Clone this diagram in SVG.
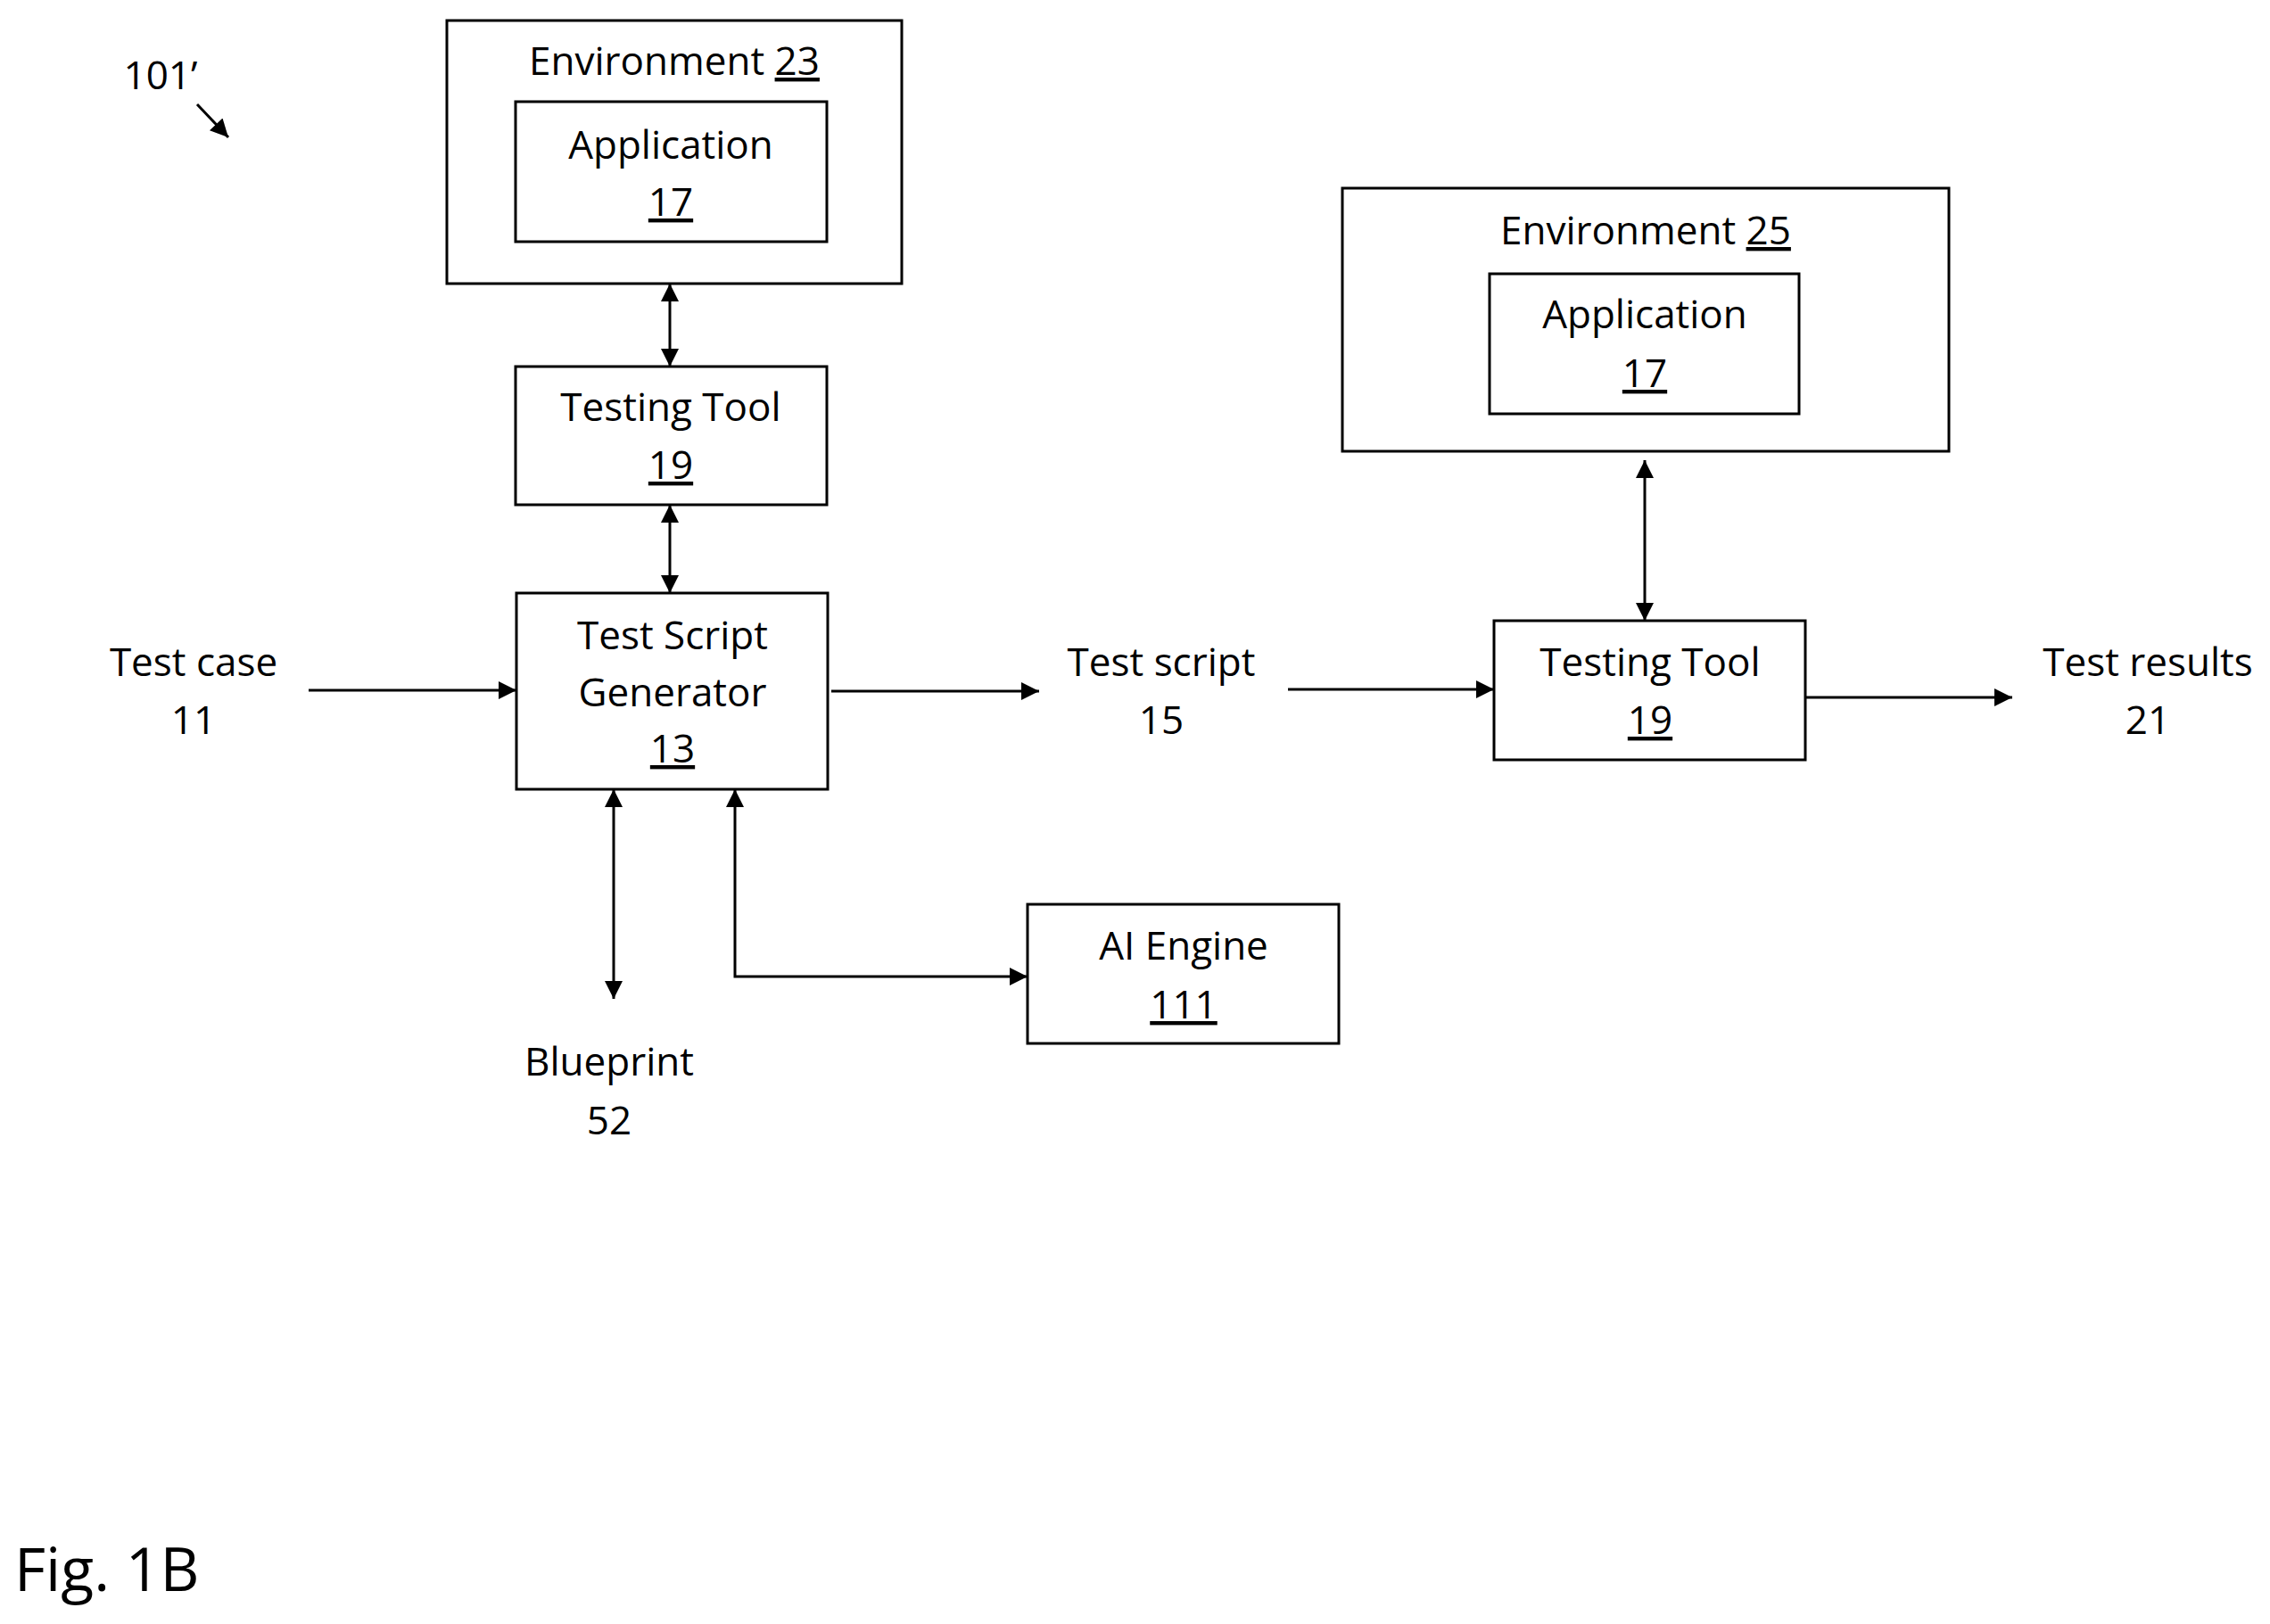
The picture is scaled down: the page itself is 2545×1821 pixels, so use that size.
<svg xmlns="http://www.w3.org/2000/svg" width="2545" height="1821" viewBox="0 0 2545 1821">
<style>
.b{fill:none;stroke:#000;stroke-width:3}
text{font-family:"Open Sans","Liberation Sans",sans-serif;font-size:44px;text-anchor:middle;fill:#000}
.u{text-decoration:underline}
.c{fill:none;stroke:#000;stroke-width:3}
</style>
<defs>
<marker id="m" viewBox="0 0 10 10" refX="10" refY="5" markerWidth="24" markerHeight="20" markerUnits="userSpaceOnUse" orient="auto-start-reverse"><path d="M0,0L10,5L0,10z" fill="#000"/></marker>
</defs>
<rect width="2545" height="1821" fill="#fff"/>
<g id="label101"><text x="180" y="100">101’</text><line x1="221" y1="117" x2="256" y2="154" class="c" marker-end="url(#m)"/></g>
<g id="env23"><rect class="b" x="501" y="23" width="510" height="295"/><text x="756" y="84">Environment <tspan class="u">23</tspan></text></g>
<g id="app17a"><rect class="b" x="578" y="114" width="349" height="157"/><text x="752" y="178">Application</text><text x="752" y="242" class="u">17</text></g>
<g id="tt19a"><rect class="b" x="578" y="411" width="349" height="155"/><text x="752" y="472">Testing Tool</text><text x="752" y="537" class="u">19</text></g>
<g id="tsg13"><rect class="b" x="579" y="665" width="349" height="220"/><text x="754" y="728">Test Script</text><text x="754" y="792">Generator</text><text x="754" y="855" class="u">13</text></g>
<g id="env25"><rect class="b" x="1505" y="211" width="680" height="295"/><text x="1845" y="274">Environment <tspan class="u">25</tspan></text></g>
<g id="app17b"><rect class="b" x="1670" y="307" width="347" height="157"/><text x="1844" y="368">Application</text><text x="1844" y="434" class="u">17</text></g>
<g id="tt19b"><rect class="b" x="1675" y="696" width="349" height="156"/><text x="1850" y="758">Testing Tool</text><text x="1850" y="823" class="u">19</text></g>
<g id="ai111"><rect class="b" x="1152" y="1014" width="349" height="156"/><text x="1327" y="1076">AI Engine</text><text x="1327" y="1142" class="u">111</text></g>
<g id="testcase"><text x="217" y="758">Test case</text><text x="217" y="823">11</text></g>
<g id="testscript"><text x="1302" y="758">Test script</text><text x="1302" y="823">15</text></g>
<g id="results"><text x="2408" y="758">Test results</text><text x="2408" y="823">21</text></g>
<g id="blueprint"><text x="683" y="1206">Blueprint</text><text x="683" y="1272">52</text></g>
<text x="16" y="1784" style="text-anchor:start;font-size:68px">Fig. 1B</text>
<g id="connectors">
<line class="c" x1="751" y1="318" x2="751" y2="411" marker-start="url(#m)" marker-end="url(#m)"/>
<line class="c" x1="751" y1="566" x2="751" y2="665" marker-start="url(#m)" marker-end="url(#m)"/>
<line class="c" x1="346" y1="774" x2="579" y2="774" marker-end="url(#m)"/>
<line class="c" x1="932" y1="775" x2="1165" y2="775" marker-end="url(#m)"/>
<line class="c" x1="1444" y1="773" x2="1675" y2="773" marker-end="url(#m)"/>
<line class="c" x1="2024" y1="782" x2="2256" y2="782" marker-end="url(#m)"/>
<line class="c" x1="1844" y1="516" x2="1844" y2="696" marker-start="url(#m)" marker-end="url(#m)"/>
<line class="c" x1="688" y1="885" x2="688" y2="1120" marker-start="url(#m)" marker-end="url(#m)"/>
<polyline class="c" points="824,885 824,1095 1152,1095" marker-start="url(#m)" marker-end="url(#m)"/>
</g>
</svg>
